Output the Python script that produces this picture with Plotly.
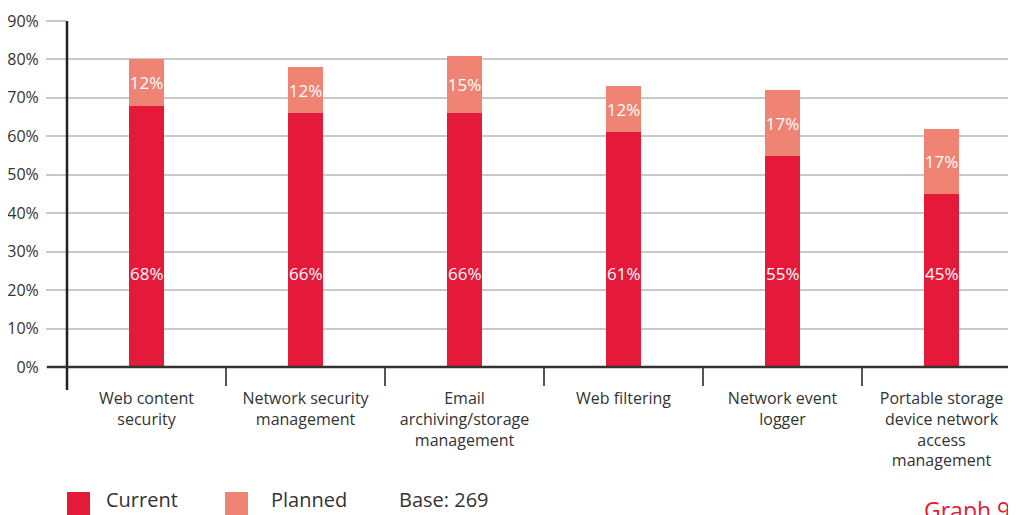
import plotly.graph_objects as go

categories = [
    "Web content<br>security",
    "Network security<br>management",
    "Email<br>archiving/storage<br>management",
    "Web filtering",
    "Network event<br>logger",
    "Portable storage<br>device network<br>access<br>management",
]
current = [68, 66, 66, 61, 55, 45]
planned = [12, 12, 15, 12, 17, 17]
y_ticks = [0, 10, 20, 30, 40, 50, 60, 70, 80, 90]
y_tick_labels = [f"{v}%" for v in y_ticks]
legend_names = ["Current", "Planned"]
base_text = "Base: 269"
graph_label = "Graph 9"

RED = "#E5193A"
SALMON = "#EF8474"
GRID = "#C9C9C9"
TEXT = "#333333"
FONT = "Open Sans"

# page body has an 8px default margin; figure spans page (8,8)-(1016,515)
OFF = 8
FIG_W, FIG_H = 1016 - OFF, 515 - OFF
L = 67 - OFF
T = 21 - OFF
plot_h = 367 - 21
plot_w = FIG_W - L
B = FIG_H - T - plot_h


def py(page_y):
    """page pixel y -> paper y"""
    return (367 - page_y) / plot_h


def px(page_x):
    return (page_x - 67) / plot_w


fig = go.Figure()
fig.add_trace(go.Bar(
    x=categories, y=current, name=legend_names[0],
    marker=dict(color=RED, line=dict(width=0)),
    width=0.226, showlegend=False,
))
fig.add_trace(go.Bar(
    x=categories, y=planned, name=legend_names[1],
    marker=dict(color=SALMON, line=dict(width=0)),
    width=0.226, showlegend=False,
    text=[f"{v}%" for v in planned], textposition="inside",
    insidetextanchor="middle", textangle=0, constraintext="none",
    textfont=dict(color="white", size=17, family=FONT),
))

# labels for current segments sit at a fixed height
for c, v in zip(categories, current):
    fig.add_annotation(x=c, y=24.2, xref="x", yref="y", text=f"{v}%",
                       showarrow=False, font=dict(color="white", size=17, family=FONT))

# y axis line extending below the x axis
fig.add_shape(type="line", xref="paper", yref="paper", x0=0, x1=0,
              y0=py(390), y1=1, line=dict(color="#222222", width=2.5))
# zero line extending left
fig.add_shape(type="line", xref="paper", yref="paper", x0=px(47), x1=1,
              y0=0, y1=0, line=dict(color="#333333", width=2.5))

# legend (drawn)
for name, col, x0px, txpx in [
        (legend_names[0], RED, 67, 105), (legend_names[1], SALMON, 225, 270)]:
    fig.add_shape(type="rect", xref="paper", yref="paper",
                  x0=px(x0px), x1=px(x0px + 23),
                  y0=py(515), y1=py(492), fillcolor=col, line=dict(width=0))
    fig.add_annotation(xref="paper", yref="paper", x=px(txpx),
                       y=py(514), xanchor="left", yanchor="bottom",
                       text=name, showarrow=False, borderpad=0,
                       font=dict(color=TEXT, size=20, family=FONT))
fig.add_annotation(xref="paper", yref="paper", x=px(398),
                   y=py(514), xanchor="left", yanchor="bottom",
                   text=base_text, showarrow=False, borderpad=0,
                   font=dict(color=TEXT, size=20, family=FONT))
fig.add_annotation(xref="paper", yref="paper", x=px(922),
                   y=py(510), xanchor="left", yanchor="middle",
                   text=graph_label, showarrow=False,
                   font=dict(color=RED, size=23, family=FONT))

fig.update_layout(
    width=FIG_W, height=FIG_H,
    margin=dict(l=L, r=0, t=T, b=B, pad=0, autoexpand=False),
    barmode="stack", bargap=0,
    plot_bgcolor="white", paper_bgcolor="white",
    font=dict(family=FONT, color=TEXT),
    showlegend=False,
    xaxis=dict(
        type="category", range=[-0.5, -0.5 + plot_w / 159],
        tickson="boundaries", ticks="outside", ticklen=18, tickwidth=1.5,
        tickcolor="#555555", showgrid=False, showline=False, zeroline=False,
        tickfont=dict(size=16, color=TEXT, family=FONT), tickangle=0,
        automargin=False, ticklabelstandoff=20,
    ),
    yaxis=dict(
        range=[0, 90], tickmode="array", tickvals=y_ticks, ticktext=y_tick_labels,
        ticks="outside", ticklen=20, tickcolor=GRID, tickwidth=1.5,
        showgrid=True, gridcolor=GRID, gridwidth=1.5, zeroline=False,
        showline=False, tickfont=dict(size=16, color=TEXT, family=FONT),
        ticklabelstandoff=4, automargin=False,
    ),
)

fig.write_html("out.html")
